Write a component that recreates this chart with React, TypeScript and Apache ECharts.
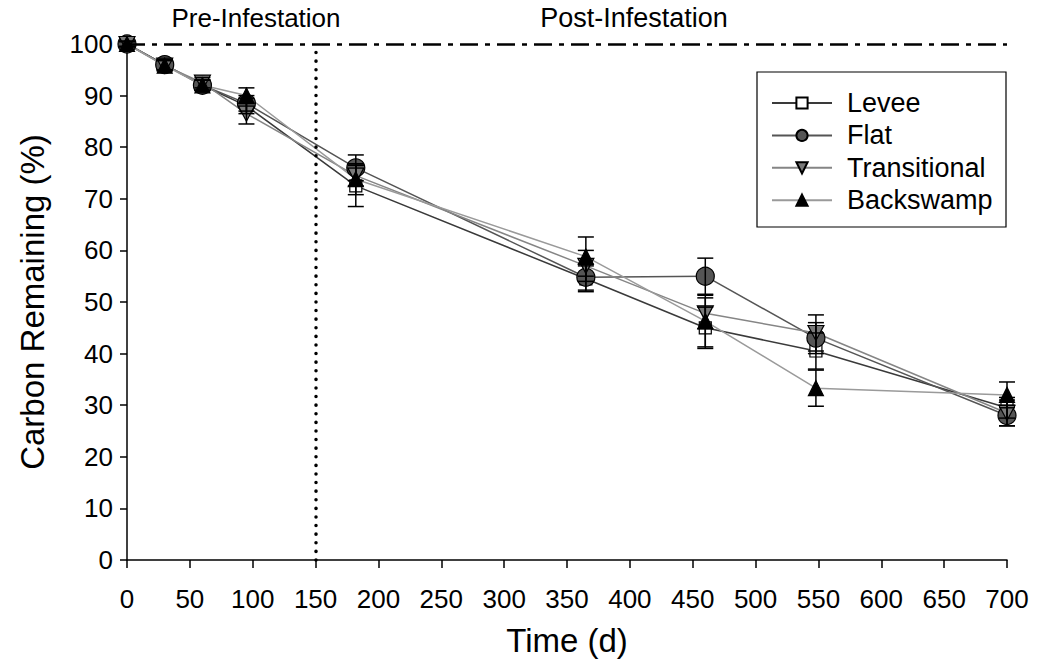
import React, { useEffect, useRef } from "react";
import * as echarts from "echarts";

const days = [0, 30, 60, 95, 182, 365, 460, 548, 700];
const seriesNames = ["Levee", "Flat", "Transitional", "Backswamp"];
const levee = [100, 96, 92, 88, 72.5, 54.5, 45, 40.5, 29.5];
const leveeErr = [0.5, 1, 1, 1.5, 4, 2.5, 4, 3.5, 2];
const flat = [100, 96, 92, 88.5, 76, 54.8, 55, 43, 28];
const flatErr = [0.5, 1, 1, 1.5, 2.5, 2.5, 3.5, 3, 2];
const transitional = [100, 95.8, 92.5, 86.5, 74.5, 57, 47.8, 44, 28.5];
const transitionalErr = [0.5, 1, 1, 2, 2, 3, 3, 3.5, 2.5];
const backswamp = [100, 95.8, 92, 90, 73.8, 58.8, 46.3, 33.3, 32];
const backswampErr = [0.5, 1, 1, 1.5, 3, 3.8, 5, 3.5, 2.5];
const referenceLevel = 100;
const infestationDay = 150;

const FONT = "Liberation Sans, Arial, sans-serif";

export default function App() {
  const ref = useRef<HTMLDivElement>(null);
  useEffect(() => {
    if (!ref.current) return;
    const chart = echarts.init(ref.current, undefined, { renderer: "svg" });
    const values = [levee, flat, transitional, backswamp];
    const errs = [leveeErr, flatErr, transitionalErr, backswampErr];
    const lineColors = ["#3a3a3a", "#555555", "#858585", "#9a9a9a"];
    const fills = ["#ffffff", "#555555", "#7a7a7a", "#000000"];
    const symbols = ["rect", "circle", "path://M0,0 L10,0 L5,9 Z", "triangle"];
    const sizes = [12, 18, [16, 15], 15];

    const lineSeries: any[] = values.map((v, i) => ({
      name: seriesNames[i],
      type: "line",
      data: days.map((d, j) => [d, v[j]]),
      symbol: symbols[i],
      symbolSize: sizes[i],
      lineStyle: { color: lineColors[i], width: 1.5 },
      itemStyle: { color: fills[i], borderColor: "#000", borderWidth: 1.2 },
      z: 4,
    }));

    const errData: number[][] = [];
    values.forEach((v, i) =>
      days.forEach((d, j) => errData.push([d, v[j] - errs[i][j], v[j] + errs[i][j]]))
    );

    const errSeries = {
      type: "custom",
      name: "err",
      data: errData,
      z: 5,
      silent: true,
      encode: { x: 0, y: [1, 2] },
      renderItem: (params: any, api: any) => {
        const x = api.value(0);
        const lo = api.coord([x, api.value(1)]);
        const hi = api.coord([x, api.value(2)]);
        const hw = 8;
        const st = { stroke: "#000", lineWidth: 1.5 };
        return {
          type: "group",
          children: [
            { type: "line", shape: { x1: lo[0], y1: lo[1], x2: hi[0], y2: hi[1] }, style: st },
            { type: "line", shape: { x1: lo[0] - hw, y1: lo[1], x2: lo[0] + hw, y2: lo[1] }, style: st },
            { type: "line", shape: { x1: hi[0] - hw, y1: hi[1], x2: hi[0] + hw, y2: hi[1] }, style: st },
          ],
        };
      },
    };

    const refSeries = {
      type: "line",
      name: "ref",
      data: [],
      silent: true,
      markLine: {
        silent: true,
        symbol: "none",
        label: { show: false },
        data: [
          [
            { coord: [0, referenceLevel] },
            { coord: [700, referenceLevel] },
          ].map((p) => ({ ...p, lineStyle: { color: "#000", width: 2.5, type: [18, 7, 5, 7] } })) as any,
          [
            { coord: [infestationDay, 0] },
            { coord: [infestationDay, referenceLevel] },
          ].map((p) => ({ ...p, lineStyle: { color: "#000", width: 3.5, type: [0.1, 8.5], cap: "round" } })) as any,
        ],
      },
      z: 2,
    };

    chart.setOption({
      animation: false,
      grid: { left: 127, right: 32, top: 44, bottom: 110, containLabel: false },
      xAxis: {
        type: "value",
        min: 0,
        max: 700,
        interval: 50,
        name: "Time (d)",
        nameLocation: "middle",
        nameGap: 64,
        nameTextStyle: { fontFamily: FONT, fontSize: 33, color: "#000" },
        axisLine: { show: true, onZero: false, lineStyle: { color: "#000", width: 1.5 } },
        axisTick: { show: true, length: 8, lineStyle: { color: "#000", width: 1.5 } },
        axisLabel: { fontFamily: FONT, fontSize: 26, color: "#000", margin: 26 },
        splitLine: { show: false },
      },
      yAxis: {
        type: "value",
        min: 0,
        max: 100,
        interval: 10,
        name: "Carbon Remaining (%)",
        nameLocation: "middle",
        nameGap: 78,
        nameRotate: 90,
        nameTextStyle: { fontFamily: FONT, fontSize: 33, color: "#000" },
        axisLine: { show: true, lineStyle: { color: "#000", width: 1.5 } },
        axisTick: { show: true, length: 7, lineStyle: { color: "#000", width: 1.5 } },
        axisLabel: { fontFamily: FONT, fontSize: 26, color: "#000", margin: 14 },
        splitLine: { show: false },
      },
      legend: {
        data: seriesNames,
        orient: "vertical",
        left: 771,
        top: 89,
        padding: 0,
        itemWidth: 60,
        itemHeight: 14,
        itemGap: 4.4,
        textStyle: { fontFamily: FONT, fontSize: 27, color: "#000", lineHeight: 28, padding: [0, 0, 0, 10] },
      },
      graphic: [
        {
          type: "rect",
          shape: { x: 757, y: 72, width: 249, height: 155 },
          style: { fill: "#fff", stroke: "#000", lineWidth: 1.2 },
          z: 0,
          zlevel: 0,
        },
        {
          type: "text",
          x: 256,
          y: 18,
          style: { text: "Pre-Infestation", fontFamily: FONT, fontSize: 26, fill: "#000", align: "center", verticalAlign: "middle" },
        },
        {
          type: "text",
          x: 634,
          y: 18,
          style: { text: "Post-Infestation", fontFamily: FONT, fontSize: 27, fill: "#000", align: "center", verticalAlign: "middle" },
        },
      ],
      series: [refSeries, ...lineSeries, errSeries],
    });
    return () => chart.dispose();
  }, []);
  return <div ref={ref} style={{ width: 1039, height: 670, position: "absolute", left: 0, top: 0 }} />;
}
